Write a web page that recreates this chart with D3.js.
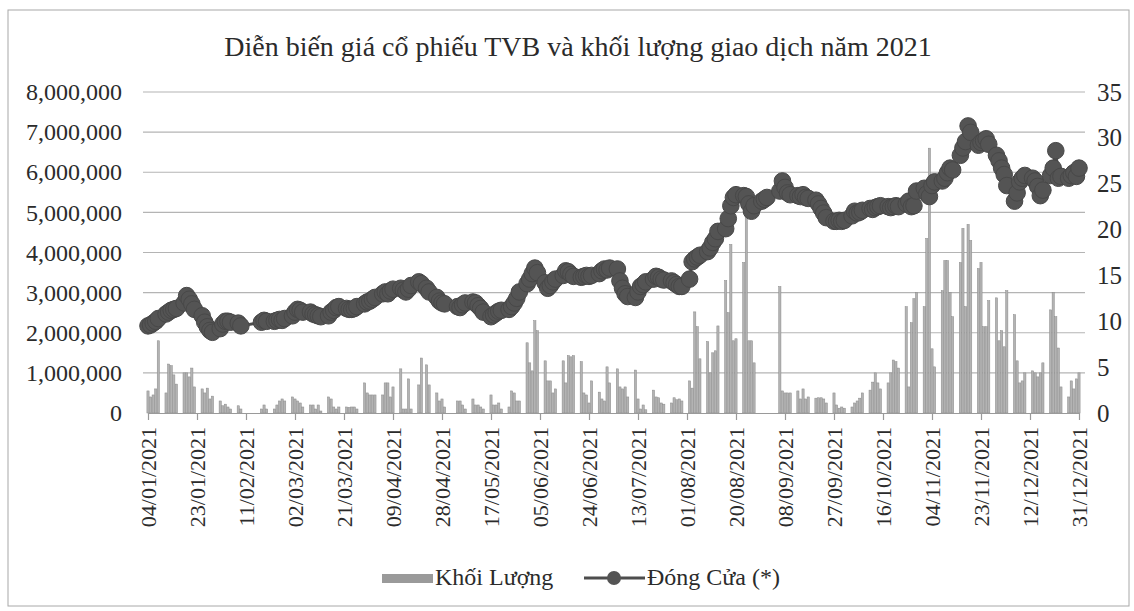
<!DOCTYPE html>
<html>
<head>
<meta charset="utf-8">
<script src="https://cdn.jsdelivr.net/npm/d3@7"></script>
<style>
  body { margin: 0; background: #fff; }
  text { font-family: "Liberation Serif", "Times New Roman", serif; fill: #2b2b2b; }
</style>
</head>
<body>
<svg id="chart" width="1134" height="611"></svg>
<script>
(function() {

  // Chart title and legend names.
  var title = "Diễn biến giá cổ phiếu TVB và khối lượng giao dịch năm 2021";
  var seriesNames = ["Khối Lượng", "Đóng Cửa (*)"];

  // Trading calendar: weekdays from first to last session, minus market holidays.
  var firstSession = "2021-01-04";
  var lastSession = "2021-12-31";
  var holidays = [
    "2021-02-10", "2021-02-11", "2021-02-12", "2021-02-15", "2021-02-16",
    "2021-04-21", "2021-04-30", "2021-05-03", "2021-09-02", "2021-09-03"
  ];

  // Tick labels on the date axis.
  var tickLabels = [
    "04/01/2021", "23/01/2021", "11/02/2021", "02/03/2021", "21/03/2021",
    "09/04/2021", "28/04/2021", "17/05/2021", "05/06/2021", "24/06/2021",
    "13/07/2021", "01/08/2021", "20/08/2021", "08/09/2021", "27/09/2021",
    "16/10/2021", "04/11/2021", "23/11/2021", "12/12/2021", "31/12/2021"
  ];

  // Left and right axis ticks.
  var volumeTicks = [0, 1000000, 2000000, 3000000, 4000000, 5000000, 6000000, 7000000, 8000000];
  var priceTicks = [0, 5, 10, 15, 20, 25, 30, 35];

  // Daily traded volume (shares), one value per session, week by week.
  var volume = [
    550000, 400000, 450000, 600000, 1800000,
    500000, 1220000, 1180000, 950000, 720000,
    1000000, 1000000, 900000, 1120000, 650000,
    600000, 500000, 620000, 350000, 420000,
    300000, 180000, 220000, 150000, 100000,
    180000, 100000,
    100000, 200000, 100000,
    100000, 200000, 300000, 350000, 300000,
    400000, 350000, 300000, 250000, 150000,
    200000, 200000, 100000, 200000, 50000,
    400000, 350000, 150000, 100000, 150000,
    150000, 140000, 150000, 150000, 100000,
    750000, 500000, 450000, 450000, 450000,
    450000, 750000, 750000, 400000, 650000,
    1100000, 100000, 100000, 850000, 100000,
    700000, 1370000, 1200000, 700000,
    500000, 300000, 350000, 150000,
    300000, 300000, 200000, 100000,
    350000, 200000, 200000, 150000, 100000,
    450000, 200000, 200000, 250000, 100000,
    150000, 550000, 500000, 300000, 300000,
    1750000, 1250000, 1050000, 2300000, 2050000,
    1300000, 800000, 800000, 500000, 600000,
    1300000, 750000, 1430000, 1400000, 1430000,
    1280000, 500000, 450000, 250000, 800000,
    520000, 350000, 300000, 1150000, 750000,
    1100000, 650000, 600000, 650000, 400000,
    1070000, 350000, 100000, 200000, 80000,
    570000, 400000, 380000, 250000, 220000,
    250000, 380000, 330000, 350000, 300000,
    800000, 620000, 2520000, 2150000, 1350000,
    1780000, 1000000, 1500000, 1550000, 2170000,
    3300000, 2500000, 4200000, 1800000, 1850000,
    3750000, 4900000, 1800000, 1800000, 1250000,
    0, 0, 0,
    3150000, 550000, 500000, 500000, 500000,
    550000, 350000, 600000, 350000, 400000,
    370000, 380000, 380000, 350000, 250000,
    500000, 200000, 120000, 150000, 120000,
    150000, 250000, 300000, 370000, 500000,
    570000, 770000, 1000000, 750000, 600000,
    750000, 1000000, 1320000, 1280000, 1120000,
    2650000, 650000, 2250000, 2850000, 3000000,
    2650000, 4350000, 6600000, 1600000, 1150000,
    3050000, 3800000, 3800000, 3000000, 2400000,
    3750000, 4600000, 2650000, 4700000, 4300000,
    3600000, 3750000, 2150000, 2150000, 2800000,
    2870000, 1800000, 2050000, 1650000, 3050000,
    2450000, 1300000, 750000, 800000, 1000000,
    1050000, 1000000, 900000, 1000000, 1250000,
    2570000, 3000000, 2400000, 1620000, 650000,
    400000, 800000, 600000, 850000, 1000000
  ];

  // Daily closing price (thousand VND), one value per session.
  var closePrice = [
    9.5, 9.6, 9.8, 10.0, 10.3,
    10.8, 11.0, 11.2, 11.3, 11.4,
    12.0, 12.8, 12.4, 11.9, 11.3,
    10.6, 9.9, 9.4, 9.0, 8.8,
    9.2, 9.7, 10.0, 10.0, 9.9,
    9.8, 9.5,
    9.9, 10.1, 10.0,
    10.0, 10.1, 10.2, 10.1, 10.3,
    10.6, 11.0, 11.3, 11.2, 11.0,
    11.0, 10.8, 10.7, 10.6, 10.5,
    10.6, 11.0, 11.2, 11.5, 11.6,
    11.4, 11.3, 11.3, 11.4, 11.6,
    11.9, 12.1, 12.2, 12.4, 12.6,
    13.0, 13.2, 13.0, 13.3, 13.5,
    13.6, 13.4, 13.2, 13.5, 13.9,
    14.3, 14.1, 13.6, 13.2,
    12.6, 12.2, 12.0, 11.9,
    11.6, 11.5, 11.8, 12.0,
    12.1, 12.0, 11.7, 11.4, 11.0,
    10.5, 10.7, 10.9, 11.1, 11.2,
    11.3, 11.6, 12.0, 12.5, 13.2,
    14.1, 14.6, 15.2, 15.8, 15.3,
    14.2, 13.6, 13.9, 14.3, 14.6,
    15.0, 15.5, 15.4, 15.1, 14.9,
    14.8, 14.9, 15.0, 14.9, 15.0,
    15.2, 15.5, 15.7, 15.6, 15.8,
    15.7, 14.4, 13.6, 13.0, 12.7,
    12.6, 13.2, 13.8, 14.0, 14.3,
    14.6, 14.9, 14.8, 14.6, 14.5,
    14.4, 14.2, 14.0, 13.8, 13.8,
    14.6, 16.5, 16.8, 17.0, 17.2,
    17.6, 18.0, 18.6, 19.0, 19.8,
    20.1, 21.2, 22.6, 23.5, 23.8,
    23.7, 23.6, 22.8, 22.0, 22.6,
    23.1, 23.3, 23.5,
    24.2, 25.3, 24.6, 24.0, 23.8,
    23.7, 23.6, 23.8, 23.5, 23.4,
    23.2, 22.8, 22.3, 21.8, 21.3,
    20.9, 20.9, 21.0, 20.9, 21.0,
    21.5, 22.0, 21.8, 21.9, 22.1,
    22.3, 22.2, 22.4, 22.5, 22.6,
    22.5, 22.4, 22.5, 22.6, 22.5,
    22.8, 23.1, 22.5, 22.6, 24.2,
    24.5, 23.9, 23.6, 24.8, 25.2,
    25.3, 25.6, 26.2, 26.7, 26.5,
    28.1, 28.9, 29.6, 31.3, 30.6,
    29.2, 29.5, 29.7, 29.9, 29.3,
    28.1, 27.5, 26.7, 26.0, 24.8,
    23.1, 24.0, 25.2, 25.6, 25.9,
    25.6, 25.3, 24.7, 23.7, 24.3,
    25.9, 26.7, 28.6, 25.6, 25.8,
    25.6, 25.9, 26.2, 25.8, 26.7
  ];

  // Layout.
  var plot = { left: 146, right: 1081, top: 92, bottom: 413 };
  var barWidth = 2.2;
  var dotRadius = 8.3;

  var parseIso = d3.timeParse("%Y-%m-%d");
  var parseLabel = d3.timeParse("%d/%m/%Y");

  // Build session dates.
  var holidaySet = new Set(holidays);
  var sessions = d3.timeDay.range(parseIso(firstSession), d3.timeDay.offset(parseIso(lastSession), 1))
    .filter(function(d) {
      var wd = d.getDay();
      return wd !== 0 && wd !== 6 && !holidaySet.has(d3.timeFormat("%Y-%m-%d")(d));
    });
  if (sessions.length !== volume.length || sessions.length !== closePrice.length) {
    console.error("length mismatch", sessions.length, volume.length, closePrice.length);
  }

  var rows = sessions.map(function(d, i) {
    return { date: d, vol: volume[i], close: closePrice[i] };
  });

  var svg = d3.select("#chart");

  // Frame around the figure.
  svg.append("rect")
    .attr("x", 8).attr("y", 10)
    .attr("width", 1121).attr("height", 596)
    .attr("fill", "none")
    .attr("stroke", "#a8a8a8")
    .attr("stroke-width", 1);

  // Scales.
  var x = d3.scaleTime()
    .domain([parseLabel(tickLabels[0]), parseLabel(tickLabels[tickLabels.length - 1])])
    .range([148, 1079]);
  var yVol = d3.scaleLinear().domain([0, 8000000]).range([plot.bottom, plot.top]);
  var yPrice = d3.scaleLinear().domain([0, 35]).range([plot.bottom, plot.top]);

  // Title.
  svg.append("text")
    .attr("x", 578).attr("y", 56)
    .attr("text-anchor", "middle")
    .attr("font-size", 28)
    .text(title);

  // Gridlines.
  svg.append("g")
    .selectAll("line")
    .data(volumeTicks.slice(1))
    .enter()
    .append("line")
    .attr("x1", plot.left - 3).attr("x2", plot.right + 4)
    .attr("y1", function(d) { return yVol(d); })
    .attr("y2", function(d) { return yVol(d); })
    .attr("stroke", "#b4b4b4")
    .attr("stroke-width", 1.2);

  // Left axis.
  var leftAxis = svg.append("g")
    .attr("transform", "translate(" + (plot.left - 3) + ",0)")
    .call(d3.axisLeft(yVol).tickValues(volumeTicks).tickFormat(d3.format(",")).tickSize(0).tickPadding(21));
  leftAxis.select(".domain").remove();
  leftAxis.selectAll("text").attr("font-size", 24).attr("fill", "#2b2b2b")
    .style("font-family", "'Liberation Serif', serif");

  // Right axis.
  var rightAxis = svg.append("g")
    .attr("transform", "translate(" + (plot.right + 4) + ",0)")
    .call(d3.axisRight(yPrice).tickValues(priceTicks).tickSize(0).tickPadding(12));
  rightAxis.select(".domain").remove();
  rightAxis.selectAll("text").attr("font-size", 25).attr("fill", "#2b2b2b")
    .style("font-family", "'Liberation Serif', serif");

  // Volume bars.
  svg.append("g")
    .selectAll("rect")
    .data(rows)
    .enter()
    .append("rect")
    .attr("x", function(d) { return x(d.date) - barWidth / 2; })
    .attr("y", function(d) { return yVol(d.vol); })
    .attr("width", barWidth)
    .attr("height", function(d) { return yVol(0) - yVol(d.vol); })
    .attr("fill", "#b3b3b3")
    .attr("stroke", "#8a8a8a")
    .attr("stroke-width", 0.5);

  // Date axis.
  var bottomAxis = svg.append("g")
    .attr("transform", "translate(0," + plot.bottom + ")")
    .call(d3.axisBottom(x).tickValues(tickLabels.map(parseLabel))
      .tickFormat(d3.timeFormat("%d/%m/%Y")).tickSize(7).tickSizeOuter(0));
  bottomAxis.select(".domain").attr("stroke", "#9a9a9a").attr("stroke-width", 1.2);
  bottomAxis.selectAll(".tick line").attr("stroke", "#9a9a9a").attr("stroke-width", 1.2);
  bottomAxis.selectAll("text")
    .attr("font-size", 22)
    .attr("fill", "#2b2b2b")
    .style("font-family", "'Liberation Serif', serif")
    .attr("text-anchor", "end")
    .attr("transform", "rotate(-90)")
    .attr("x", -14)
    .attr("y", 0)
    .attr("dy", "0.35em");

  // Closing price line with markers.
  var line = d3.line()
    .x(function(d) { return x(d.date); })
    .y(function(d) { return yPrice(d.close); });

  svg.append("path")
    .datum(rows)
    .attr("d", line)
    .attr("fill", "none")
    .attr("stroke", "#4d4d4d")
    .attr("stroke-width", 3);

  svg.append("g")
    .selectAll("circle")
    .data(rows)
    .enter()
    .append("circle")
    .attr("cx", function(d) { return x(d.date); })
    .attr("cy", function(d) { return yPrice(d.close); })
    .attr("r", dotRadius)
    .attr("fill", "#545454")
    .attr("stroke", "#484848")
    .attr("stroke-width", 1);

  // Legend.
  var legend = svg.append("g");
  legend.append("rect")
    .attr("x", 382).attr("y", 574)
    .attr("width", 51).attr("height", 9)
    .attr("fill", "#9a9a9a");
  legend.append("text")
    .attr("x", 435).attr("y", 585)
    .attr("font-size", 24)
    .text(seriesNames[0]);
  legend.append("line")
    .attr("x1", 584).attr("x2", 645)
    .attr("y1", 578).attr("y2", 578)
    .attr("stroke", "#4d4d4d")
    .attr("stroke-width", 3);
  legend.append("circle")
    .attr("cx", 614).attr("cy", 578)
    .attr("r", 7)
    .attr("fill", "#545454");
  legend.append("text")
    .attr("x", 647).attr("y", 585)
    .attr("font-size", 24)
    .text(seriesNames[1]);

})();
</script>
</body>
</html>
